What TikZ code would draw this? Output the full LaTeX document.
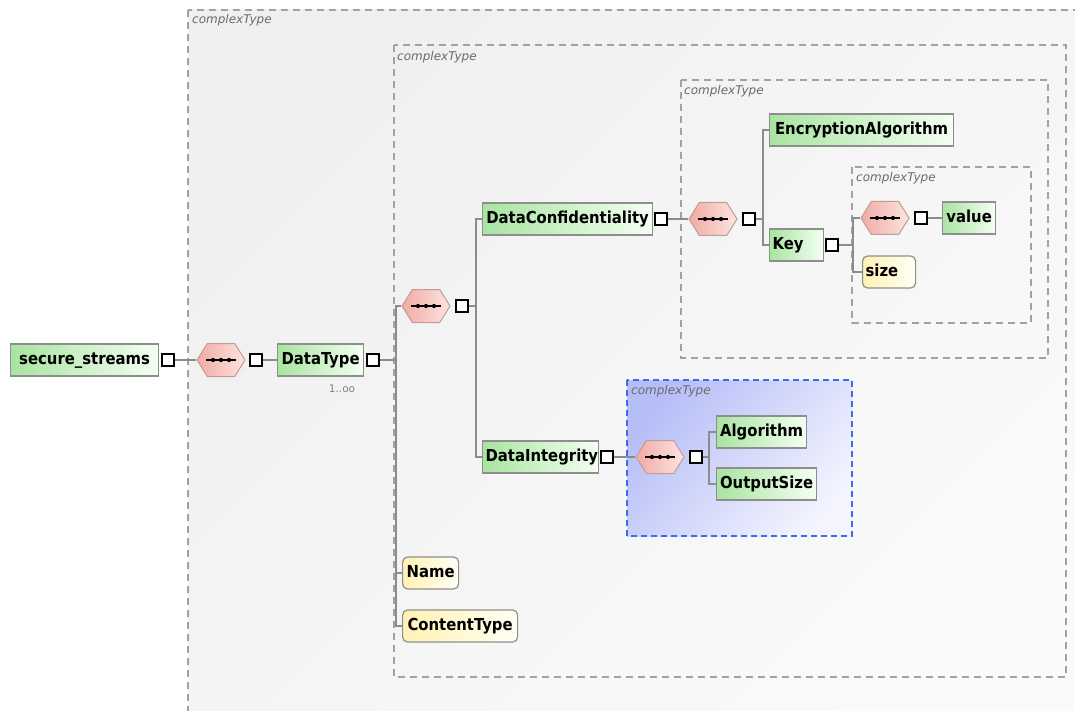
\documentclass[tikz,border=0pt]{standalone}
\usepackage{fontspec}
\setmainfont{DejaVu Sans}
\newfontfamily\elemfont{DejaVu Sans Condensed}
\usetikzlibrary{shapes.symbols}

\definecolor{connC}{HTML}{8C8C8C}
\definecolor{boxC}{HTML}{A2A2A2}
\definecolor{bgA}{HTML}{F0F0F0}
\definecolor{bgB}{HTML}{FAFAFA}
\definecolor{elemB}{HTML}{8E8E8E}
\definecolor{elemL}{HTML}{A9E4A1}
\definecolor{elemR}{HTML}{F4FFF2}
\definecolor{attrL}{HTML}{FFF2B4}
\definecolor{attrR}{HTML}{FFFFF4}
\definecolor{seqB}{HTML}{C29C96}
\definecolor{seqL}{HTML}{F0ABA4}
\definecolor{seqR}{HTML}{FDE4E0}
\definecolor{blueB}{HTML}{3A6BF0}
\definecolor{blueL}{HTML}{B6BEF7}
\definecolor{blueR}{HTML}{F3F4FE}
\definecolor{ctText}{HTML}{6C6A6A}

\begin{document}
\begin{tikzpicture}[x=1pt,y=-1pt,
  conn/.style={draw=connC, line width=1.3pt},
  ctbox/.style={draw=boxC, line width=1.3pt, dash pattern=on 7pt off 5pt},
  ctlabel/.style={anchor=west, inner sep=0pt, text=ctText,
    font=\itshape\fontsize{12}{13}\selectfont},
  elem/.style={draw=elemB, line width=1.2pt, left color=elemL, right color=elemR,
    anchor=west, align=center, inner xsep=3pt, inner ysep=0pt,
    minimum height=32pt, text height=12pt, text depth=3.5pt,
    font=\elemfont\bfseries\fontsize{16.5}{18}\selectfont},
  attr/.style={elem, left color=attrL, right color=attrR, rounded corners=5pt},
  sq/.style={draw=black, fill=white, line width=1.3pt, minimum size=12pt, inner sep=0pt},
  seq/.style={signal, signal to=east and west, signal pointer angle=116,
    draw=seqB, line width=1pt, left color=seqL, right color=seqR,
    minimum width=48pt, minimum height=33pt, inner sep=0pt,
    path picture={
      \draw[black, line width=1.5pt]
        ([xshift=-15pt]path picture bounding box.center) --
        ([xshift=15pt]path picture bounding box.center);
      \foreach \d in {-8,0,8}
        \fill[black] ([xshift=\d pt]path picture bounding box.center) circle (2.1pt);
    }},
]
\useasboundingbox (0,0) rectangle (1075,711);
\clip (0,0) rectangle (1075,711);
\fill[white] (0,0) rectangle (1075,711);

% nested complexType containers
\shade[left color=bgA, right color=bgB, shading angle=45] (188,10) rectangle (1110,740);
\draw[ctbox] (188,10) rectangle (1110,740);
\draw[ctbox] (394,45) rectangle (1066,677);
\draw[ctbox] (681,80) rectangle (1048,358);
\draw[ctbox] (852,167) rectangle (1031,323);
\shade[left color=blueL, right color=blueR, shading angle=50] (627,380) rectangle (852,536);
\draw[draw=blueB, line width=1.3pt, dash pattern=on 6pt off 4pt] (627,380) rectangle (852,536);

\node[ctlabel] (ct1) at (192,20) {complexType};
\node[ctlabel] (ct2) at (397,57) {complexType};
\node[ctlabel] (ct3) at (684,91) {complexType};
\node[ctlabel] (ct4) at (856,178) {complexType};
\node[ctlabel] (ct5) at (631,391) {complexType};

% bus lines of the sequences
\coordinate (bA) at (396,0);
\coordinate (bB) at (476,0);
\coordinate (bC) at (763,0);
\coordinate (bD) at (853,0);
\coordinate (bE) at (709,0);

% elements
\node[elem, text width=142pt] (ss) at (10,360) {secure\_streams};
\node[sq] (s1) at (168,360) {};
\node[seq] (h1) at (221,360) {};
\node[sq] (s2) at (256,360) {};
\node[elem, text width=80pt] (dt) at (277,360) {DataType};
\node[sq] (s3) at (373,360) {};
\node[anchor=center, inner sep=0pt, text=gray, font=\fontsize{10.5}{11}\selectfont] (mult) at (342,389) {1..oo};

\node[seq] (h2) at (426,306) {};
\node[sq] (s4) at (462,306) {};

\node[elem, text width=164pt] (dc) at (482,219) {DataConfidentiality};
\node[sq] (s5) at (661,219) {};
\node[seq] (h3) at (713,219) {};
\node[sq] (s6) at (749,219) {};
\node[elem, text width=178pt] (ea) at (769,130) {EncryptionAlgorithm};
\node[elem, text width=48pt, align=left] (key) at (769,245) {Key};
\node[sq] (s7) at (832,245) {};
\node[seq] (h4) at (885,218) {};
\node[sq] (s8) at (921,218) {};
\node[elem, text width=47pt] (val) at (942,218) {value};
\node[attr, text width=47pt, align=left] (sz) at (862,272) {size};

\node[elem, text width=110pt] (di) at (482,457) {DataIntegrity};
\node[sq] (s9) at (607,457) {};
\node[seq] (h5) at (660,457) {};
\node[sq] (s10) at (696,457) {};
\node[elem, text width=84pt] (alg) at (716,432) {Algorithm};
\node[elem, text width=94pt] (os) at (716,484) {OutputSize};

\node[attr, text width=50pt] (nm) at (402,573) {Name};
\node[attr, text width=109pt] (ctp) at (402,626) {ContentType};

% connectors
\draw[conn] (s1.east) -- (h1.west);
\draw[conn] (s2.east) -- (dt.west);
\draw[conn] (s3.east) -- (s3.east -| bA);
\draw[conn] (h2.west) -- (h2.west -| bA) |- (ctp.west);
\draw[conn] (nm.west) -- (nm.west -| bA);
\draw[conn] (s4.east) -- (s4.east -| bB);
\draw[conn] (dc.west) -- (dc.west -| bB) |- (di.west);
\draw[conn] (s5.east) -- (h3.west);
\draw[conn] (s6.east) -- (s6.east -| bC);
\draw[conn] (ea.west) -- (ea.west -| bC) |- (key.west);
\draw[conn] (s7.east) -- (s7.east -| bD);
\draw[conn] (h4.west) -- (h4.west -| bD) |- (sz.west);
\draw[conn] (s8.east) -- (val.west);
\draw[conn] (s9.east) -- (h5.west);
\draw[conn] (s10.east) -- (s10.east -| bE);
\draw[conn] (alg.west) -- (alg.west -| bE) |- (os.west);
\end{tikzpicture}
\end{document}
